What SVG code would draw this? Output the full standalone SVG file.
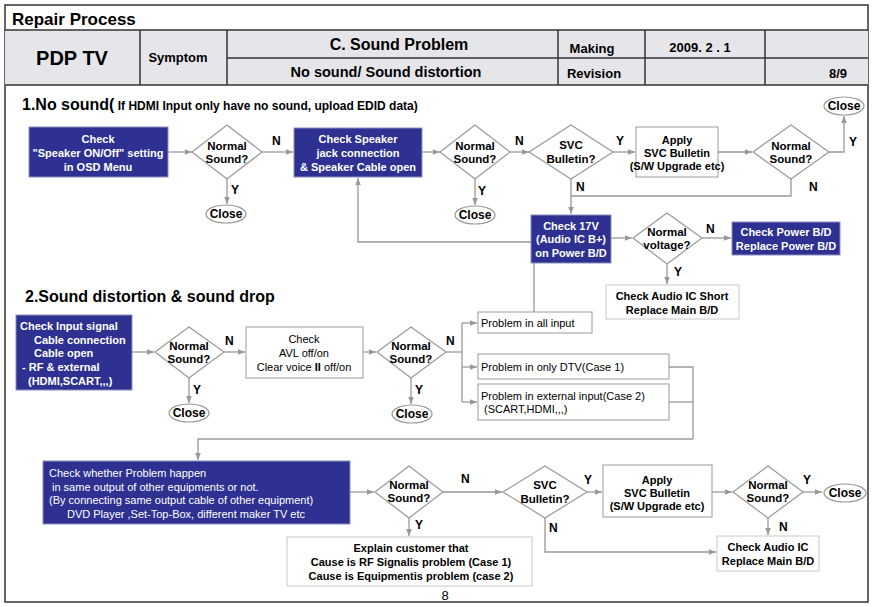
<svg xmlns="http://www.w3.org/2000/svg" width="875" height="607" viewBox="0 0 875 607">
<style>
text{font-family:"Liberation Sans",Arial,sans-serif;}
.b{font-weight:bold;}
.w{fill:#fff;}
.blue{fill:#2e3192;stroke:#8c8fc0;stroke-width:1;}
.wbox{fill:#fff;stroke:#999;stroke-width:1;}
.lbox{fill:#fff;stroke:#c8c8c8;stroke-width:1;}
.dia{fill:#fff;stroke:#999;stroke-width:1.2;}
.cl{fill:#fff;stroke:#999;stroke-width:1.2;}
.c{fill:none;stroke:#999;stroke-width:1.3;}
.ca{fill:none;stroke:#999;stroke-width:1.3;marker-end:url(#ah);}
.hl{stroke:#333;stroke-width:1.5;fill:none;}
.t11{font-size:11px;}
.t12{font-size:12px;}
.dt{font-size:11.5px;font-weight:bold;}
.lab{font-size:12px;font-weight:bold;}
</style>
<defs>
<marker id="ah" viewBox="0 0 10 10" refX="10" refY="5" markerWidth="7" markerHeight="7" markerUnits="userSpaceOnUse" orient="auto">
<path d="M0,1 L10,5 L0,9 z" fill="#999"/>
</marker>
</defs>
<rect x="0" y="0" width="875" height="607" fill="#fff"/>

<g id="header">
<rect x="5" y="5" width="863" height="597" fill="none" stroke="#333" stroke-width="1.5"/>
<rect x="5" y="30" width="863" height="55" fill="#e6e6ea"/>
<line class="hl" x1="5" y1="30" x2="868" y2="30"/>
<line class="hl" x1="5" y1="85" x2="868" y2="85"/>
<line class="hl" x1="227" y1="58" x2="868" y2="58"/>
<line class="hl" x1="140" y1="30" x2="140" y2="85"/>
<line class="hl" x1="227" y1="30" x2="227" y2="85"/>
<line class="hl" x1="558" y1="30" x2="558" y2="85"/>
<line class="hl" x1="645" y1="30" x2="645" y2="85"/>
<line class="hl" x1="765" y1="30" x2="765" y2="85"/>
<text x="12" y="25" class="b" font-size="17">Repair Process</text>
<text x="72" y="65" class="b" font-size="20" text-anchor="middle">PDP TV</text>
<text x="178" y="62" class="b" font-size="13" text-anchor="middle">Symptom</text>
<text x="399" y="50" class="b" font-size="16" text-anchor="middle">C. Sound Problem</text>
<text x="386" y="77" class="b" font-size="14.5" text-anchor="middle">No sound/ Sound distortion</text>
<text x="592" y="53" class="b" font-size="13" text-anchor="middle">Making</text>
<text x="700" y="52" class="b" font-size="13" text-anchor="middle">2009. 2 . 1</text>
<text x="594" y="78" class="b" font-size="13" text-anchor="middle">Revision</text>
<text x="838" y="78" class="b" font-size="13" text-anchor="middle">8/9</text>
</g>

<g id="titles">
<text x="22" y="110"><tspan class="b" font-size="16">1.No sound(</tspan><tspan class="b" font-size="12"> If HDMI Input only have no sound, upload EDID data)</tspan></text>
<text x="25" y="302" class="b" font-size="16">2.Sound distortion &amp; sound drop</text>
<text x="445" y="600" font-size="13" text-anchor="middle">8</text>
</g>

<g id="connectors">
<line class="ca" x1="168" y1="152" x2="192" y2="152"/>
<line class="ca" x1="262" y1="152" x2="293" y2="152"/>
<line class="ca" x1="227" y1="179" x2="227" y2="204"/>
<line class="ca" x1="422" y1="152" x2="440" y2="152"/>
<line class="ca" x1="475" y1="179" x2="475" y2="205"/>
<line class="ca" x1="510" y1="152" x2="529" y2="152"/>
<line class="ca" x1="613" y1="152" x2="635" y2="152"/>
<line class="ca" x1="718" y1="152" x2="752" y2="152"/>
<polyline class="ca" points="829,152 844,152 844,116"/>
<polyline class="c" points="791,179 791,196 571,196"/>
<line class="ca" x1="571" y1="179" x2="571" y2="214"/>
<polyline class="ca" points="531,242 358,242 358,178"/>
<line class="c" x1="534" y1="263" x2="534" y2="312"/>
<line class="ca" x1="611" y1="238" x2="632" y2="238"/>
<line class="ca" x1="702" y1="238" x2="731" y2="238"/>
<line class="ca" x1="667" y1="264" x2="667" y2="284"/>

<line class="ca" x1="132" y1="352" x2="154" y2="352"/>
<line class="ca" x1="224" y1="352" x2="245" y2="352"/>
<line class="ca" x1="189" y1="378" x2="189" y2="403"/>
<line class="ca" x1="363" y1="352" x2="376" y2="352"/>
<line class="ca" x1="411" y1="378" x2="411" y2="404"/>
<polyline class="c" points="446,352 462,352"/>
<line class="c" x1="462" y1="323" x2="462" y2="402"/>
<line class="ca" x1="462" y1="323" x2="477" y2="323"/>
<line class="ca" x1="462" y1="367" x2="477" y2="367"/>
<line class="ca" x1="462" y1="402" x2="477" y2="402"/>
<polyline class="c" points="669,367 693,367 693,439"/>
<line class="c" x1="669" y1="402" x2="693" y2="402"/>
<polyline class="ca" points="693,439 198,439 198,460"/>

<line class="ca" x1="350" y1="492" x2="374" y2="492"/>
<line class="ca" x1="443" y1="492" x2="502" y2="492"/>
<line class="ca" x1="409" y1="518" x2="409" y2="536"/>
<line class="ca" x1="587" y1="492" x2="602" y2="492"/>
<polyline class="ca" points="545,518 545,552 716,552"/>
<line class="ca" x1="712" y1="492" x2="732" y2="492"/>
<line class="ca" x1="803" y1="492" x2="822" y2="492"/>
<line class="ca" x1="768" y1="518" x2="768" y2="535"/>

<text x="272" y="145" class="lab">N</text>
<text x="231" y="194" class="lab">Y</text>
<text x="515" y="145" class="lab">N</text>
<text x="478" y="195" class="lab">Y</text>
<text x="616" y="145" class="lab">Y</text>
<text x="576" y="191" class="lab">N</text>
<text x="809" y="191" class="lab">N</text>
<text x="849" y="146" class="lab">Y</text>
<text x="706" y="233" class="lab">N</text>
<text x="674" y="276" class="lab">Y</text>
<text x="225" y="345" class="lab">N</text>
<text x="193" y="394" class="lab">Y</text>
<text x="446" y="345" class="lab">N</text>
<text x="415" y="394" class="lab">Y</text>
<text x="461" y="483" class="lab">N</text>
<text x="415" y="529" class="lab">Y</text>
<text x="584" y="484" class="lab">Y</text>
<text x="549" y="532" class="lab">N</text>
<text x="803" y="484" class="lab">Y</text>
<text x="779" y="531" class="lab">N</text>
</g>

<g id="n_speaker_osd">
<rect class="blue" x="29" y="127" width="139" height="50"/>
<text class="b t11 w" text-anchor="middle"><tspan x="98" y="143">Check</tspan><tspan x="98" y="157">"Speaker ON/Off" setting</tspan><tspan x="98" y="171">in OSD Menu</tspan></text>
</g>
<g id="n_d1">
<polygon class="dia" points="227,125 262,152 227,179 192,152"/>
<text class="dt" text-anchor="middle"><tspan x="227" y="150">Normal</tspan><tspan x="227" y="163">Sound?</tspan></text>
</g>
<g id="n_close1">
<ellipse class="cl" cx="226" cy="214" rx="20" ry="9"/>
<text x="226" y="218" class="b t12" text-anchor="middle">Close</text>
</g>
<g id="n_speaker_jack">
<rect class="blue" x="294" y="128" width="128" height="49"/>
<text class="b t11 w" text-anchor="middle"><tspan x="358" y="143">Check Speaker</tspan><tspan x="358" y="157">jack connection</tspan><tspan x="358" y="171">&amp; Speaker Cable open</tspan></text>
</g>
<g id="n_d2">
<polygon class="dia" points="475,125 510,152 475,179 440,152"/>
<text class="dt" text-anchor="middle"><tspan x="475" y="150">Normal</tspan><tspan x="475" y="163">Sound?</tspan></text>
</g>
<g id="n_close2">
<ellipse class="cl" cx="475" cy="215" rx="20" ry="9"/>
<text x="475" y="219" class="b t12" text-anchor="middle">Close</text>
</g>
<g id="n_svc1">
<polygon class="dia" points="571,125 613,152 571,179 529,152"/>
<text class="dt" text-anchor="middle"><tspan x="571" y="149">SVC</tspan><tspan x="571" y="163">Bulletin?</tspan></text>
</g>
<g id="n_apply1">
<rect class="wbox" x="636" y="127" width="82" height="50"/>
<text class="b t11" text-anchor="middle"><tspan x="677" y="144">Apply</tspan><tspan x="677" y="157">SVC Bulletin</tspan><tspan x="677" y="170">(S/W Upgrade etc)</tspan></text>
</g>
<g id="n_d4">
<polygon class="dia" points="791,125 829,152 791,179 753,152"/>
<text class="dt" text-anchor="middle"><tspan x="791" y="150">Normal</tspan><tspan x="791" y="163">Sound?</tspan></text>
</g>
<g id="n_close3">
<ellipse class="cl" cx="844" cy="106" rx="20" ry="9"/>
<text x="844" y="110" class="b t12" text-anchor="middle">Close</text>
</g>
<g id="n_17v">
<rect class="blue" x="531" y="215" width="80" height="48"/>
<text class="b t11 w" text-anchor="middle"><tspan x="571" y="230">Check 17V</tspan><tspan x="571" y="243">(Audio IC B+)</tspan><tspan x="571" y="257">on Power B/D</tspan></text>
</g>
<g id="n_voltage">
<polygon class="dia" points="667,213 702,238 667,264 633,238"/>
<text class="dt" text-anchor="middle"><tspan x="667" y="236">Normal</tspan><tspan x="667" y="249">voltage?</tspan></text>
</g>
<g id="n_power">
<rect class="blue" x="732" y="222" width="108" height="33"/>
<text class="b t11 w" text-anchor="middle"><tspan x="786" y="236">Check Power B/D</tspan><tspan x="786" y="250">Replace Power B/D</tspan></text>
</g>
<g id="n_audio_short">
<rect class="lbox" x="606" y="285" width="133" height="34"/>
<text class="b t11" text-anchor="middle"><tspan x="672" y="300">Check Audio IC Short</tspan><tspan x="672" y="314">Replace Main B/D</tspan></text>
</g>

<g id="n_input">
<rect class="blue" x="16" y="315" width="116" height="75"/>
<text class="b t11 w"><tspan x="20" y="330">Check Input signal</tspan><tspan x="34" y="344">Cable connection</tspan><tspan x="34" y="357">Cable open</tspan><tspan x="22" y="371">- RF &amp; external</tspan><tspan x="28" y="385">(HDMI,SCART,,,)</tspan></text>
</g>
<g id="n_d6">
<polygon class="dia" points="189,327 224,352 189,378 155,352"/>
<text class="dt" text-anchor="middle"><tspan x="189" y="350">Normal</tspan><tspan x="189" y="363">Sound?</tspan></text>
</g>
<g id="n_close4">
<ellipse class="cl" cx="189" cy="413" rx="20" ry="9"/>
<text x="189" y="417" class="b t12" text-anchor="middle">Close</text>
</g>
<g id="n_avl">
<rect class="wbox" x="246" y="327" width="117" height="51"/>
<text class="t11" text-anchor="middle"><tspan x="304" y="343">Check</tspan><tspan x="304" y="357">AVL off/on</tspan><tspan x="304" y="371">Clear voice <tspan class="b">II</tspan> off/on</tspan></text>
</g>
<g id="n_d7">
<polygon class="dia" points="411,327 446,352 411,378 377,352"/>
<text class="dt" text-anchor="middle"><tspan x="411" y="350">Normal</tspan><tspan x="411" y="363">Sound?</tspan></text>
</g>
<g id="n_close5">
<ellipse class="cl" cx="412" cy="414" rx="20" ry="9"/>
<text x="412" y="418" class="b t12" text-anchor="middle">Close</text>
</g>
<g id="n_all_input">
<rect class="wbox" x="478" y="312" width="114" height="21"/>
<text x="481" y="327" class="t11">Problem in all input</text>
</g>
<g id="n_dtv">
<rect class="wbox" x="478" y="354" width="191" height="25"/>
<text x="481" y="371" class="t11">Problem in only DTV(Case 1)</text>
</g>
<g id="n_external">
<rect class="wbox" x="478" y="384" width="191" height="36"/>
<text class="t11"><tspan x="481" y="400">Problem in external input(Case 2)</tspan><tspan x="484" y="413">(SCART,HDMI,,,)</tspan></text>
</g>

<g id="n_check_whether">
<rect class="blue" x="43" y="461" width="307" height="63"/>
<text class="t11 w"><tspan x="49" y="477">Check whether Problem happen</tspan><tspan x="52" y="491">in same output of other equipments or not.</tspan><tspan x="49" y="504">(By connecting same output cable of other equipment)</tspan><tspan x="67" y="518">DVD Player ,Set-Top-Box, different maker TV etc</tspan></text>
</g>
<g id="n_d8">
<polygon class="dia" points="409,466 443,492 409,518 375,492"/>
<text class="dt" text-anchor="middle"><tspan x="409" y="489">Normal</tspan><tspan x="409" y="502">Sound?</tspan></text>
</g>
<g id="n_svc2">
<polygon class="dia" points="545,466 587,492 545,518 503,492"/>
<text class="dt" text-anchor="middle"><tspan x="545" y="489">SVC</tspan><tspan x="545" y="503">Bulletin?</tspan></text>
</g>
<g id="n_apply2">
<rect class="wbox" x="603" y="465" width="109" height="52"/>
<text class="b t11" text-anchor="middle"><tspan x="657" y="484">Apply</tspan><tspan x="657" y="497">SVC Bulletin</tspan><tspan x="657" y="510">(S/W Upgrade etc)</tspan></text>
</g>
<g id="n_d10">
<polygon class="dia" points="768,466 803,492 768,518 733,492"/>
<text class="dt" text-anchor="middle"><tspan x="768" y="489">Normal</tspan><tspan x="768" y="502">Sound?</tspan></text>
</g>
<g id="n_close6">
<ellipse class="cl" cx="845" cy="493" rx="21" ry="9"/>
<text x="845" y="497" class="b t12" text-anchor="middle">Close</text>
</g>
<g id="n_audio_ic">
<rect class="lbox" x="717" y="536" width="102" height="35"/>
<text class="b t11" text-anchor="middle"><tspan x="768" y="551">Check Audio IC</tspan><tspan x="768" y="565">Replace Main B/D</tspan></text>
</g>
<g id="n_explain">
<rect class="lbox" x="287" y="537" width="245" height="49"/>
<text class="b t11" text-anchor="middle"><tspan x="411" y="552">Explain customer that</tspan><tspan x="411" y="566">Cause is RF Signalis problem (Case 1)</tspan><tspan x="411" y="580">Cause is Equipmentis problem (case 2)</tspan></text>
</g>
</svg>
